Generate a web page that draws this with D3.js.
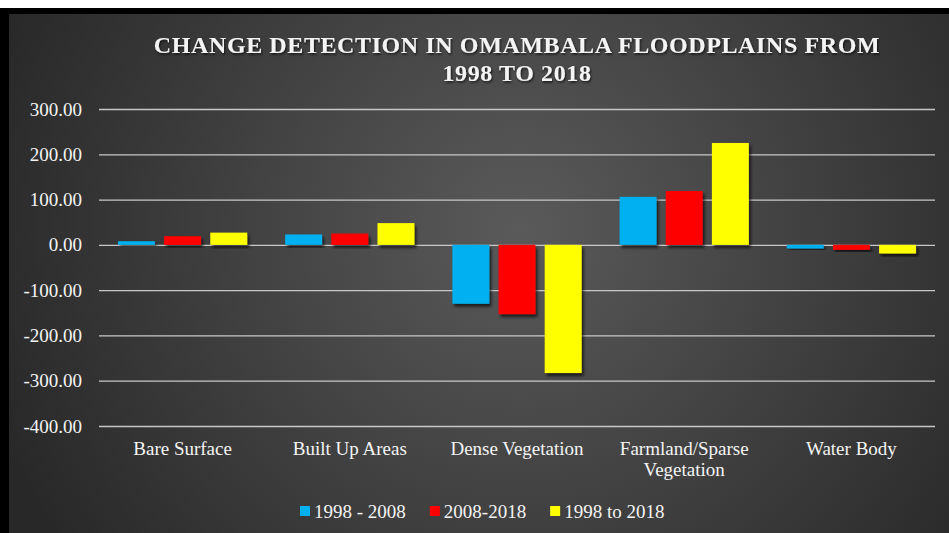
<!DOCTYPE html>
<html>
<head>
<meta charset="utf-8">
<script src="https://cdn.jsdelivr.net/npm/d3@7"></script>
<style>
  html, body { margin: 0; padding: 0; background: #fff; }
  svg { display: block; }
  .tick text { font-family: 'Liberation Serif', serif; }
</style>
</head>
<body>
<svg id="chart" width="949" height="533"></svg>
<script>
// data
const categories = ['Bare Surface', 'Built Up Areas', 'Dense Vegetation', 'Farmland/Sparse Vegetation', 'Water Body'];
const seriesNames = ['1998 - 2008', '2008-2018', '1998 to 2018'];
const seriesColors = ['#00B0F0', '#FF0000', '#FFFF00'];
const change9808 = [8, 23, -130, 106, -8];
const change0818 = [19, 25, -153, 119, -11];
const change9818 = [27, 48, -283, 225, -19];
const yTicks = [-400, -300, -200, -100, 0, 100, 200, 300];
const titleLines = ['CHANGE DETECTION IN OMAMBALA FLOODPLAINS FROM', '1998 TO 2018'];

const seriesValues = [change9808, change0818, change9818];
const W = 949, H = 533;
const plot = { left: 99, right: 935, top: 109, bottom: 426 };
const FONT = "'Liberation Serif', serif";
const TEXT_COLOR = '#f4f4f4';

// plain hyphen for negatives, like the original
const fmt = d3.formatLocale({ decimal: '.', thousands: ',', grouping: [3], currency: ['', ''], minus: '-' }).format('.2f');

const svg = d3.select('#chart');
const defs = svg.append('defs');

// background gradient
const grad = defs.append('radialGradient')
  .attr('id', 'bg')
  .attr('gradientUnits', 'userSpaceOnUse')
  .attr('cx', 520).attr('cy', 230).attr('r', 560);
grad.append('stop').attr('offset', '0%').attr('stop-color', '#5a5a5a');
grad.append('stop').attr('offset', '100%').attr('stop-color', '#282828');

const shadow = defs.append('filter').attr('id', 'barShadow')
  .attr('x', '-20%').attr('y', '-20%').attr('width', '150%').attr('height', '150%');
shadow.append('feDropShadow')
  .attr('dx', 2).attr('dy', 3).attr('stdDeviation', 1.8)
  .attr('flood-color', '#000').attr('flood-opacity', 0.65);

const textShadow = defs.append('filter').attr('id', 'textShadow');
textShadow.append('feDropShadow')
  .attr('dx', 1).attr('dy', 1.5).attr('stdDeviation', 1)
  .attr('flood-color', '#000').attr('flood-opacity', 0.7);

// frame
svg.append('rect').attr('x', 0).attr('y', 8).attr('width', W).attr('height', H - 8).attr('fill', '#000');
svg.append('rect').attr('x', 9).attr('y', 14).attr('width', W - 9).attr('height', H - 14).attr('fill', 'url(#bg)');

// scales
const x0 = d3.scaleBand()
  .domain(categories)
  .range([plot.left, plot.right])
  .paddingInner(0.227)
  .paddingOuter(0.1135);

const x1 = d3.scaleBand()
  .domain(seriesNames)
  .range([0, x0.bandwidth()])
  .paddingInner(0.2);

const y = d3.scaleLinear()
  .domain([d3.min(yTicks), d3.max(yTicks)])
  .range([plot.bottom, plot.top]);

// y axis + gridlines
const yAxis = d3.axisLeft(y)
  .tickValues(yTicks)
  .tickFormat(fmt)
  .tickSize(-(plot.right - plot.left))
  .tickPadding(17);

const yg = svg.append('g')
  .attr('transform', `translate(${plot.left},0)`)
  .call(yAxis);
yg.select('.domain').remove();
yg.selectAll('.tick line')
  .attr('stroke', '#c8c8c8')
  .attr('stroke-width', 1.3);
yg.selectAll('.tick text')
  .attr('fill', TEXT_COLOR)
  .style('font-size', '19px');

// bars
const groups = svg.append('g')
  .selectAll('g')
  .data(categories)
  .join('g')
  .attr('transform', d => `translate(${x0(d)},0)`);

groups.selectAll('rect')
  .data((c, ci) => seriesNames.map((s, si) => ({ s, si, v: seriesValues[si][ci] })))
  .join('rect')
  .attr('x', d => x1(d.s))
  .attr('width', x1.bandwidth())
  .attr('y', d => y(Math.max(0, d.v)))
  .attr('height', d => Math.abs(y(d.v) - y(0)))
  .attr('fill', d => seriesColors[d.si])
  .attr('filter', 'url(#barShadow)');

// category labels (wrapped)
const xAxis = d3.axisBottom(x0).tickSize(0).tickPadding(0);
const xg = svg.append('g')
  .attr('transform', `translate(0,${plot.bottom})`)
  .call(xAxis);
xg.select('.domain').remove();
xg.selectAll('.tick text')
  .attr('fill', TEXT_COLOR)
  .style('font-size', '19px')
  .attr('y', 29)
  .attr('dy', null)
  .each(function () {
    wrap(d3.select(this), x0.step() - 6);
  });

function wrap(text, width) {
  const words = text.text().split(/\s+/);
  const yPos = text.attr('y');
  text.text(null);
  let line = [];
  let lineNo = 0;
  let tspan = text.append('tspan').attr('x', 0).attr('y', yPos);
  words.forEach(w => {
    line.push(w);
    tspan.text(line.join(' '));
    if (tspan.node().getComputedTextLength() > width && line.length > 1) {
      line.pop();
      tspan.text(line.join(' '));
      line = [w];
      lineNo++;
      tspan = text.append('tspan').attr('x', 0).attr('y', yPos).attr('dy', `${lineNo * 1.1}em`).text(w);
    }
  });
}

// title
svg.append('g')
  .attr('filter', 'url(#textShadow)')
  .selectAll('text')
  .data(titleLines)
  .join('text')
  .attr('x', 517)
  .attr('y', (d, i) => 53 + i * 28)
  .attr('text-anchor', 'middle')
  .attr('fill', TEXT_COLOR)
  .style('font-family', FONT)
  .style('font-weight', 'bold')
  .style('font-size', '24px')
  .style('letter-spacing', '0.6px')
  .text(d => d);

// legend
const legend = svg.append('g').attr('transform', 'translate(300,511)');
let lx = 0;
seriesNames.forEach((name, i) => {
  const item = legend.append('g').attr('transform', `translate(${lx},0)`);
  item.append('rect')
    .attr('x', 0).attr('y', -5)
    .attr('width', 10).attr('height', 10)
    .attr('fill', seriesColors[i]);
  const t = item.append('text')
    .attr('x', 14).attr('y', 0).attr('dy', '0.35em')
    .attr('fill', TEXT_COLOR)
    .style('font-family', FONT)
    .style('font-size', '19px')
    .text(name);
  lx += 14 + t.node().getComputedTextLength() + 24;
});
</script>
</body>
</html>
